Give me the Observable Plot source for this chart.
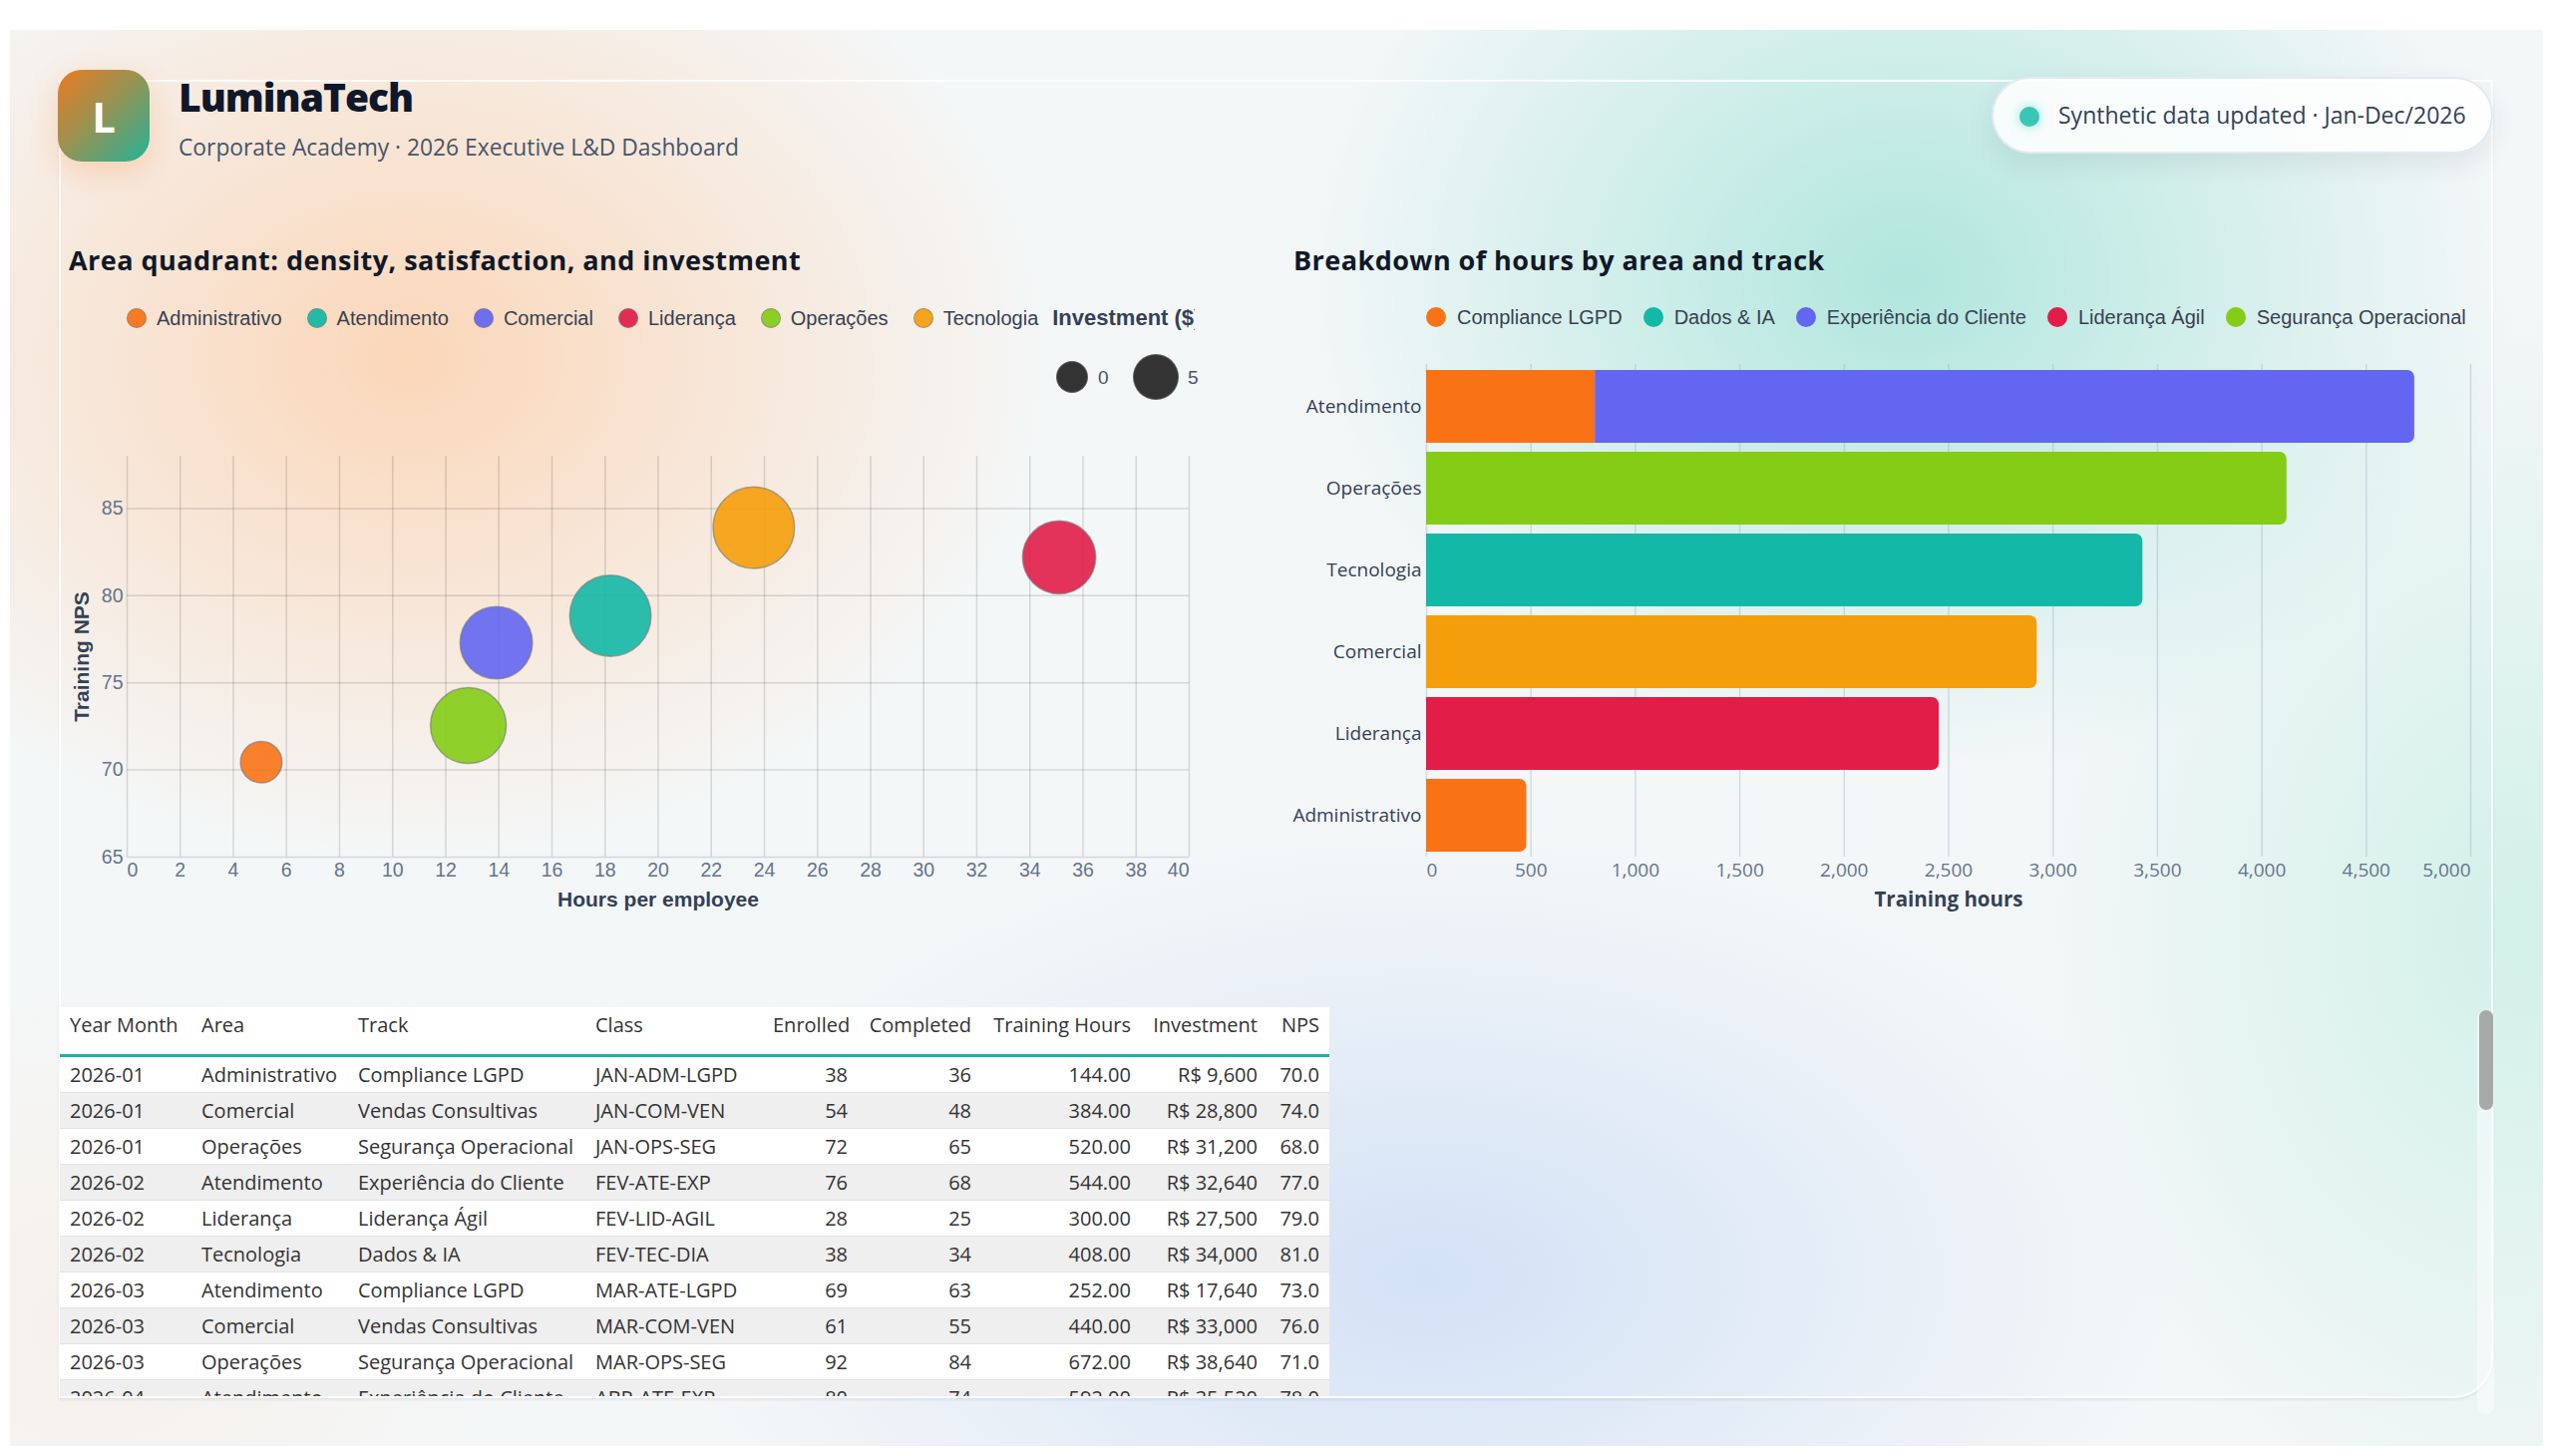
<!DOCTYPE html>
<html>
<head>
<meta charset="utf-8">
<script src="https://cdn.jsdelivr.net/npm/d3@7"></script>
<script src="https://cdn.jsdelivr.net/npm/@observablehq/plot@0.6"></script>
<style>
  html, body { margin: 0; padding: 0; background: #ffffff; }
  body { width: 2560px; height: 1460px; position: relative; overflow: hidden; font-family: 'Open Sans', sans-serif; }
  .abs { position: absolute; }
  .bg {
    left: 10px; top: 30px; width: 2540px; height: 1420px;
    background:
      radial-gradient(ellipse 900px 700px at 400px 330px, rgba(252,210,176,0.88), rgba(252,210,176,0) 72%),
      radial-gradient(ellipse 850px 700px at 1900px 250px, rgba(160,226,215,0.8), rgba(160,226,215,0) 72%),
      radial-gradient(ellipse 1050px 620px at 1420px 1250px, rgba(206,222,246,0.85), rgba(206,222,246,0) 72%),
      radial-gradient(ellipse 700px 900px at 2520px 900px, rgba(196,238,226,0.7), rgba(196,238,226,0) 72%),
      radial-gradient(ellipse 600px 500px at 80px 1300px, rgba(248,236,226,0.6), rgba(248,236,226,0) 72%),
      #f4f7f8;
  }
  .panel {
    left: 59px; top: 80px; width: 2437px; height: 1318px;
    border: 2px solid rgba(255,255,255,0.8);
    border-radius: 0 0 40px 0;
    box-shadow: 0 2px 3px rgba(15,23,42,0.07);
  }
  .logo {
    left: 58px; top: 70px; width: 92px; height: 92px; border-radius: 24px;
    background: linear-gradient(135deg, #ec7a22 0%, #9a9250 45%, #22b39a 100%);
    box-shadow: 0 10px 30px rgba(249,115,22,0.22);
    color: #ffffff; font-family: 'Open Sans', sans-serif; font-weight: 700; font-size: 42px;
    display: flex; align-items: center; justify-content: center;
  }
  .brand { left: 179px; top: 77px; font-size: 39px; line-height: 39px; font-weight: 800; color: #0f172a; letter-spacing: -1px; white-space: nowrap; }
  .tagline { left: 179px; top: 136px; font-size: 22.8px; line-height: 23px; color: #475569; white-space: nowrap; }
  .pill {
    left: 1997px; top: 77px; width: 499px; height: 73px; border-radius: 40px;
    background: rgba(255,255,255,0.86); border: 2px solid rgba(226,232,240,0.95);
    box-shadow: 0 10px 28px rgba(15,23,42,0.08);
  }
  .pill-dot { left: 2025px; top: 107px; width: 20px; height: 20px; border-radius: 50%; background: #3cc4b4; box-shadow: 0 0 12px rgba(45,212,191,0.55); }
  .pill-text { left: 2064px; top: 104px; font-size: 23px; line-height: 23px; color: #334155; white-space: nowrap; }
  .card-title { font-size: 27px; line-height: 27px; font-weight: 700; color: #111827; white-space: nowrap; letter-spacing: 0.45px; }
  .legend { display: flex; align-items: center; white-space: nowrap; overflow: hidden; height: 24px; font-family: 'Liberation Sans', Arial, sans-serif; font-size: 20px; line-height: 20px; color: #374151; }
  .legend .item { display: flex; align-items: center; margin-right: 25px; flex: none; }
  .legend .sw { width: 20px; height: 20px; border-radius: 50%; box-sizing: border-box; flex: none; }
  .legend .ttl { font-weight: 700; color: #334155; flex: none; font-size: 22px; }
  .size-dot { border-radius: 50%; background: #333333; border: 1.5px solid rgba(120,120,120,0.6); box-sizing: border-box; }
  .size-lbl { font-family: 'Liberation Sans', Arial, sans-serif; font-size: 19px; line-height: 19px; color: #4b5563; }
  .table-wrap { left: 60px; top: 1010px; width: 1273px; height: 390px; overflow: hidden; background: #ffffff; }
  table { border-collapse: collapse; table-layout: fixed; width: 1273px; font-family: 'Open Sans', sans-serif; font-size: 20px; color: #333333; }
  th { font-weight: 400; text-align: left; height: 48px; padding: 5px 10px 0 10px; vertical-align: top; line-height: 26px; border-bottom: 3px solid #14b8a6; box-sizing: border-box; white-space: nowrap; }
  td { height: 36px; padding: 0 10px; line-height: 35px; border-bottom: 1px solid #e4e4e4; box-sizing: border-box; white-space: nowrap; overflow: hidden; }
  th.num, td.num { text-align: right; }
  tbody tr:nth-child(even) td { background: #efefef; }
  tbody tr:nth-child(odd) td { background: #ffffff; }
  .track { left: 2484px; top: 1013px; width: 17px; height: 405px; border-radius: 9px; background: rgba(255,255,255,0.45); }
  .thumb { left: 2486px; top: 1013px; width: 14px; height: 100px; border-radius: 7px; background: #a5a9a7; }
  svg { overflow: visible; }
</style>
</head>
<body>
<div class="abs bg"></div>
<div class="abs panel"></div>
<div class="abs logo">L</div>
<div class="abs brand">LuminaTech</div>
<div class="abs tagline">Corporate Academy · 2026 Executive L&amp;D Dashboard</div>
<div class="abs pill"></div>
<div class="abs pill-dot"></div>
<div class="abs pill-text">Synthetic data updated · Jan-Dec/2026</div>

<div class="abs card-title" style="left:69px; top:247px;">Area quadrant: density, satisfaction, and investment</div>
<div class="abs card-title" style="left:1297px; top:247px;">Breakdown of hours by area and track</div>

<div id="legendLeft" class="abs legend" style="left:127px; top:307px; width:1071px;"></div>
<div id="legendRight" class="abs legend" style="left:1430px; top:306px; width:1100px;"></div>

<div class="abs size-dot" style="left:1059px; top:362px; width:32px; height:32px;"></div>
<div class="abs size-lbl" style="left:1101px; top:369px;">0</div>
<div class="abs size-dot" style="left:1136px; top:355px; width:46px; height:46px;"></div>
<div class="abs size-lbl" style="left:1191px; top:369px;">5</div>

<div id="scatter" class="abs" style="left:60px; top:440px;"></div>
<div id="bars" class="abs" style="left:1290px; top:340px;"></div>

<div class="abs table-wrap"><table id="tbl"></table></div>
<div class="abs track"></div>
<div class="abs thumb"></div>

<script>
// ---- Area summary (bubble chart) ----
const areas = ["Administrativo", "Atendimento", "Comercial", "Liderança", "Operações", "Tecnologia"];
const areaColors = ["#f97316", "#14b8a6", "#6366f1", "#e11d48", "#84cc16", "#f59e0b"];
const hoursPerEmployee = [5.05, 18.2, 13.9, 35.1, 12.85, 23.6];
const areaNps = [70.45, 78.85, 77.3, 82.2, 72.55, 83.9];
const areaInvestment = [105600, 405800, 321400, 328200, 352100, 406300];

// ---- Hours by area and track (stacked bars) ----
const barOrder = ["Atendimento", "Operações", "Tecnologia", "Comercial", "Liderança", "Administrativo"];
const tracks = ["Compliance LGPD", "Dados & IA", "Experiência do Cliente", "Liderança Ágil", "Segurança Operacional", "Vendas Consultivas"];
const trackColors = ["#f97316", "#14b8a6", "#6366f1", "#e11d48", "#84cc16", "#f59e0b"];
const legendTracks = ["Compliance LGPD", "Dados & IA", "Experiência do Cliente", "Liderança Ágil", "Segurança Operacional"];
const hoursArea = ["Atendimento", "Atendimento", "Operações", "Tecnologia", "Comercial", "Liderança", "Administrativo"];
const hoursTrack = ["Compliance LGPD", "Experiência do Cliente", "Segurança Operacional", "Dados & IA", "Vendas Consultivas", "Liderança Ágil", "Compliance LGPD"];
const hoursTotal = [808, 3924, 4120, 3430, 2924, 2455, 480];

// ---- Class table ----
const tblHeaders = ["Year Month", "Area", "Track", "Class", "Enrolled", "Completed", "Training Hours", "Investment", "NPS"];
const tblYearMonth = ["2026-01", "2026-01", "2026-01", "2026-02", "2026-02", "2026-02", "2026-03", "2026-03", "2026-03", "2026-04"];
const tblArea = ["Administrativo", "Comercial", "Operações", "Atendimento", "Liderança", "Tecnologia", "Atendimento", "Comercial", "Operações", "Atendimento"];
const tblTrack = ["Compliance LGPD", "Vendas Consultivas", "Segurança Operacional", "Experiência do Cliente", "Liderança Ágil", "Dados & IA", "Compliance LGPD", "Vendas Consultivas", "Segurança Operacional", "Experiência do Cliente"];
const tblClass = ["JAN-ADM-LGPD", "JAN-COM-VEN", "JAN-OPS-SEG", "FEV-ATE-EXP", "FEV-LID-AGIL", "FEV-TEC-DIA", "MAR-ATE-LGPD", "MAR-COM-VEN", "MAR-OPS-SEG", "ABR-ATE-EXP"];
const tblEnrolled = [38, 54, 72, 76, 28, 38, 69, 61, 92, 80];
const tblCompleted = [36, 48, 65, 68, 25, 34, 63, 55, 84, 74];
const tblHours = [144, 384, 520, 544, 300, 408, 252, 440, 672, 592];
const tblInvestment = [9600, 28800, 31200, 32640, 27500, 34000, 17640, 33000, 38640, 35520];
const tblNps = [70, 74, 68, 77, 79, 81, 73, 76, 71, 78];

// Legends
function buildLegend(el, labels, colors, withStroke, gap, itemGap) {
  labels.forEach((label, i) => {
    const item = document.createElement("div");
    item.className = "item";
    item.style.marginRight = itemGap + "px";
    const sw = document.createElement("div");
    sw.className = "sw";
    sw.style.background = colors[i];
    if (withStroke) { sw.style.opacity = "0.92"; sw.style.border = "1.5px solid rgba(120,120,120,0.65)"; }
    sw.style.marginRight = gap + "px";
    const tx = document.createElement("span");
    tx.textContent = label;
    item.append(sw, tx);
    el.append(item);
  });
}
const legLeft = document.getElementById("legendLeft");
buildLegend(legLeft, areas, areaColors, true, 10, 25);
legLeft.lastChild.style.marginRight = "14px";
const ttl = document.createElement("span");
ttl.className = "ttl";
ttl.textContent = "Investment ($)";
legLeft.append(ttl);
buildLegend(document.getElementById("legendRight"), legendTracks, trackColors.slice(0, 5), false, 11, 21);

// Edge tick labels are anchored inward so they stay inside the frame
function edgeLabels(values, format, fontSize) {
  const first = values[0], last = values[values.length - 1];
  return [
    Plot.axisX(values.slice(1, -1), {tickSize: 0, tickPadding: 6, label: null, color: "#64748b", fontSize, tickFormat: format}),
    Plot.text([first], {x: d => d, text: d => format(d), frameAnchor: "bottom", lineAnchor: "top", dy: 6, textAnchor: "start", fill: "#64748b", fontSize}),
    Plot.text([last], {x: d => d, text: d => format(d), frameAnchor: "bottom", lineAnchor: "top", dy: 6, textAnchor: "end", fill: "#64748b", fontSize})
  ];
}

// Bubble chart: hours per employee vs NPS, sized by investment
const areaRows = areas.map((a, i) => ({area: a, hours: hoursPerEmployee[i], nps: areaNps[i], investment: areaInvestment[i]}));
const xTicks = d3.range(0, 41, 2);
const yTicks = [65, 70, 75, 80, 85];
const scatter = Plot.plot({
  width: 1160, height: 500,
  marginLeft: 67, marginRight: 28, marginTop: 17, marginBottom: 81,
  style: {background: "transparent", fontFamily: "'Liberation Sans', Arial, sans-serif", fontSize: "19.5px", color: "#64748b"},
  x: {domain: [0, 40]},
  y: {domain: [65, 88]},
  r: {domain: [0, 420000], range: [0, 41.5]},
  color: {domain: areas, range: areaColors},
  marks: [
    Plot.gridX(xTicks, {stroke: "#000", strokeOpacity: 0.13, strokeWidth: 1.5}),
    Plot.gridY(yTicks, {stroke: "#000", strokeOpacity: 0.13, strokeWidth: 1.5}),
    ...edgeLabels(xTicks, d3.format("d"), 19.5),
    Plot.axisY({ticks: yTicks, tickSize: 0, tickPadding: 4, label: null, color: "#64748b", fontSize: 19.5}),
    Plot.dot(areaRows, {x: "hours", y: "nps", r: "investment", fill: "area", fillOpacity: 0.9, stroke: "#777", strokeOpacity: 0.6, strokeWidth: 1.5}),
    Plot.text(["Hours per employee"], {text: d => d, frameAnchor: "bottom", textAnchor: "middle", lineAnchor: "middle", dy: 43, fontWeight: "bold", fontSize: 21, fill: "#334155"}),
    Plot.text(["Training NPS"], {text: d => d, frameAnchor: "left", textAnchor: "middle", lineAnchor: "middle", dx: -45, rotate: -90, fontWeight: "bold", fontSize: 21, fill: "#334155"})
  ]
});
document.getElementById("scatter").append(scatter);

// Stacked bars: cumulative start/end of each track within its area
const segs = [];
const acc = new Map();
hoursArea.forEach((a, i) => {
  const x1 = acc.get(a) ?? 0;
  const x2 = x1 + hoursTotal[i];
  acc.set(a, x2);
  segs.push({area: a, track: hoursTrack[i], x1, x2});
});
const lastIdx = new Map();
segs.forEach((s, i) => lastIdx.set(s.area, i));
const segInner = segs.filter((s, i) => lastIdx.get(s.area) !== i);
const segEnd = segs.filter((s, i) => lastIdx.get(s.area) === i);
const hTicks = d3.range(0, 5001, 500);

const bars = Plot.plot({
  width: 1220, height: 600,
  marginLeft: 140, marginRight: 33, marginTop: 25, marginBottom: 81,
  style: {background: "transparent", fontFamily: "'Open Sans', sans-serif", fontSize: "19px", color: "#64748b"},
  x: {domain: [0, 5000]},
  y: {domain: barOrder, paddingInner: 0.11, paddingOuter: 0.04},
  color: {domain: tracks, range: trackColors},
  marks: [
    Plot.gridX(hTicks, {stroke: "#94a3b8", strokeOpacity: 0.35, strokeWidth: 1.5}),
    Plot.barX(segInner, {x1: "x1", x2: "x2", y: "area", fill: "track"}),
    Plot.barX(segEnd, {x1: "x1", x2: "x2", y: "area", fill: "track", rx2: 7}),
    ...edgeLabels(hTicks, d3.format(","), 19),
    Plot.axisY({tickSize: 0, tickPadding: 5, label: null, color: "#334155", fontSize: 19}),
    Plot.text(["Training hours"], {text: d => d, frameAnchor: "bottom", textAnchor: "middle", lineAnchor: "middle", dy: 43, fontWeight: "bold", fontSize: 20.5, fill: "#334155"})
  ]
});
document.getElementById("bars").append(bars);

// Table
const fmtMoney = d3.format(",");
const numeric = [false, false, false, false, true, true, true, true, true];
const tbl = document.getElementById("tbl");
const colWidths = [132, 157, 238, 178, 95, 124, 160, 127, 62];
const colgroup = document.createElement("colgroup");
colWidths.forEach(w => { const c = document.createElement("col"); c.style.width = w + "px"; colgroup.append(c); });
tbl.append(colgroup);
const thead = tbl.createTHead();
const hr = thead.insertRow();
tblHeaders.forEach((h, j) => {
  const th = document.createElement("th");
  th.textContent = h;
  if (numeric[j]) th.className = "num";
  hr.append(th);
});
const tbody = tbl.createTBody();
tblYearMonth.forEach((ym, i) => {
  const r = tbody.insertRow();
  const vals = [ym, tblArea[i], tblTrack[i], tblClass[i], tblEnrolled[i], tblCompleted[i],
    tblHours[i].toFixed(2), "R$ " + fmtMoney(tblInvestment[i]), tblNps[i].toFixed(1)];
  vals.forEach((v, j) => {
    const td = r.insertCell();
    td.textContent = v;
    if (numeric[j]) td.className = "num";
  });
});
</script>
</body>
</html>
